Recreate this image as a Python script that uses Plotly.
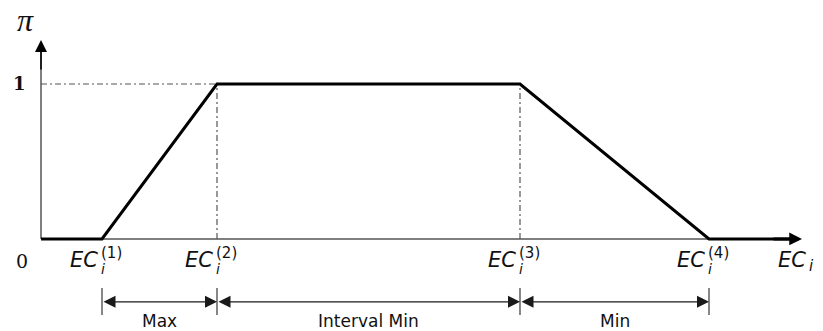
import plotly.graph_objects as go

# ---- data ----
breakpoints = [0.61, 1.76, 4.79, 6.68]          # EC_i^(1..4) positions on the EC_i axis
pi_values = [0, 0, 1, 1, 0, 0]                  # membership profile values
axis_end = 7.61                                  # end of the EC_i axis (arrow tip)
y_axis_top = 1.284                               # top of the pi axis (arrow tip)
superscripts = ["(1)", "(2)", "(3)", "(4)"]
interval_labels = ["Max", "Interval Min", "Min"]

x_profile = [0] + breakpoints + [axis_end - 0.08]

GRAY = "#555555"
BLACK = "#000000"
SANS = "DejaVu Sans"
SERIF = "DejaVu Serif"
TXT = "#111111"

fig = go.Figure()

# thick membership function line
fig.add_trace(go.Scatter(x=x_profile, y=pi_values, mode="lines",
                         line=dict(color=BLACK, width=3), hoverinfo="skip"))

shapes = []
# axes (thin)
shapes.append(dict(type="line", x0=0, y0=0, x1=axis_end - 0.05, y1=0,
                   line=dict(color=GRAY, width=1.5), layer="below"))
shapes.append(dict(type="line", x0=0, y0=0, x1=0, y1=y_axis_top - 0.05,
                   line=dict(color=GRAY, width=1.5), layer="below"))
# dash-dot guide lines
dd = "6px,3px,2px,3px"
shapes.append(dict(type="line", x0=0, y0=1, x1=breakpoints[1], y1=1,
                   line=dict(color=GRAY, width=1.2, dash=dd), layer="below"))
for bp in (breakpoints[1], breakpoints[2]):
    shapes.append(dict(type="line", x0=bp, y0=0, x1=bp, y1=1,
                       line=dict(color=GRAY, width=1.2, dash=dd), layer="below"))

# dimension ticks
tick_y0, tick_y1, dim_y = -0.316, -0.490, -0.406
for bp in breakpoints:
    shapes.append(dict(type="line", x0=bp, y0=tick_y0, x1=bp, y1=tick_y1,
                       line=dict(color=GRAY, width=1.4)))

annotations = []
# axis arrowheads
annotations.append(dict(x=axis_end, y=0, ax=axis_end - 0.3, ay=0, xref="x", yref="y",
                        axref="x", ayref="y", text="", showarrow=True, arrowhead=2,
                        arrowsize=0.85, arrowwidth=3, arrowcolor=BLACK, standoff=0))
annotations.append(dict(x=0, y=y_axis_top, ax=0, ay=y_axis_top - 0.2, xref="x", yref="y",
                        axref="x", ayref="y", text="", showarrow=True, arrowhead=2,
                        arrowsize=1.6, arrowwidth=1.5, arrowcolor=BLACK, standoff=0))

# dimension arrows
for i in range(3):
    a, b = breakpoints[i], breakpoints[i + 1]
    annotations.append(dict(x=b, y=dim_y, ax=a, ay=dim_y, xref="x", yref="y",
                            axref="x", ayref="y", text="", showarrow=True, arrowhead=2,
                            arrowside="end+start", arrowsize=2.0, arrowwidth=1.2,
                            arrowcolor="#1a1a1a", standoff=0, startstandoff=0))
    annotations.append(dict(x=(a + b) / 2, y=-0.532, xref="x", yref="y", text=interval_labels[i],
                            showarrow=False, font=dict(family=SANS, size=17, color=TXT)))

# EC labels: "EC" plus stacked superscript (k) over subscript i
lab_y = -0.135
for bp, sup in zip(breakpoints, superscripts):
    annotations.append(dict(x=bp, y=lab_y, xref="x", yref="y", text="<i>EC</i>", showarrow=False,
                            xanchor="right", xshift=-3, borderpad=0,
                            font=dict(family=SANS, size=21, color=TXT)))
    annotations.append(dict(x=bp, y=lab_y, xref="x", yref="y",
                            text=f"<span style='font-size:15px'>{sup}</span><br>"
                                 f"<span style='font-size:14px'><i>i</i></span>",
                            showarrow=False, align="left", xanchor="left", xshift=-2, yshift=-1,
                            borderpad=0, font=dict(family=SANS, size=12, color=TXT)))

# axis labels
annotations.append(dict(x=axis_end + 0.05, y=lab_y, xref="x", yref="y", text="<i>EC</i>",
                        showarrow=False, xanchor="right", borderpad=0,
                        font=dict(family=SANS, size=21, color=TXT)))
annotations.append(dict(x=axis_end + 0.06, y=lab_y, xref="x", yref="y", text="<i>i</i>",
                        showarrow=False, xanchor="left", yshift=-6, borderpad=0,
                        font=dict(family=SANS, size=15, color=TXT)))
annotations.append(dict(x=-0.16, y=1.41, xref="x", yref="y", text="<i>π</i>", showarrow=False,
                        font=dict(family="Liberation Serif", size=32, color=TXT)))
annotations.append(dict(x=-0.215, y=1, xref="x", yref="y", text="<b>1</b>", showarrow=False,
                        font=dict(family=SERIF, size=18, color=TXT)))
annotations.append(dict(x=-0.19, y=lab_y - 0.01, xref="x", yref="y", text="0", showarrow=False,
                        font=dict(family=SERIF, size=19, color=TXT)))

fig.update_layout(
    width=823, height=331,
    margin=dict(l=0, r=0, t=0, b=0),
    paper_bgcolor="white", plot_bgcolor="white",
    showlegend=False,
    xaxis=dict(visible=False, range=[-0.41, 7.82], fixedrange=True),
    yaxis=dict(visible=False, range=[-0.594, 1.542], fixedrange=True),
    shapes=shapes, annotations=annotations,
)

fig.write_html("out.html", config={"displayModeBar": False},
               post_script="document.body.style.margin='0px';document.body.style.overflow='hidden';")
